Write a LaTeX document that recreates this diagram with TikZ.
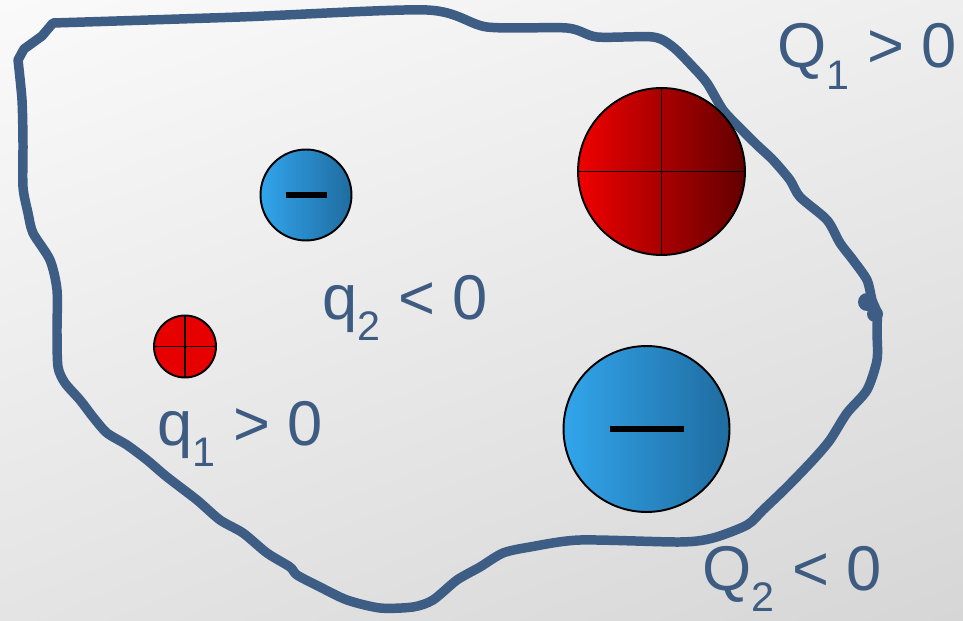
\documentclass[tikz,border=0pt]{standalone}
\usepackage{fontspec}
\setmainfont{Liberation Sans}
\usetikzlibrary{shadings}
\definecolor{outline}{RGB}{61,93,133}
\definecolor{txt}{RGB}{62,92,130}
\definecolor{bgUL}{HTML}{FAFAFA}
\definecolor{bgUR}{HTML}{EEEEEE}
\definecolor{bgLL}{HTML}{E4E4E4}
\definecolor{bgLR}{HTML}{D6D6D6}
\definecolor{blueL}{RGB}{50,165,236}
\definecolor{blueR}{RGB}{31,108,160}
\definecolor{redL}{RGB}{240,0,0}
\definecolor{redR}{RGB}{98,0,0}
\definecolor{redflat}{RGB}{230,0,0}
\newcommand{\lblsub}[1]{\raisebox{-12pt}{\fontsize{23.5}{24}\selectfont #1}}
\tikzset{
  charge/.style={circle, draw=black, line width=1.1pt, inner sep=0pt, outer sep=0pt},
  negcharge/.style={charge, left color=blueL, right color=blueR},
  poscharge/.style={charge, left color=redL, right color=redR},
  smallpos/.style={charge, fill=redflat},
  crossline/.style={black, line width=1.1pt},
  minusbar/.style={black, line width=3.6pt},
  lbl/.style={anchor=base west, inner sep=0pt, text=txt, font=\fontsize{36}{40}\selectfont},
  boundary/.style={draw=outline, line width=5.4pt, line join=round, line cap=round}
}
\begin{document}
\begin{tikzpicture}[x=0.02cm, y=-0.02cm]
\useasboundingbox (0,0) rectangle (963,621);
\shade[upper left=bgUL, upper right=bgUR, lower left=bgLL, lower right=bgLR] (0,0) rectangle (963,621);
% boundary surface
\draw[boundary] plot[smooth, tension=0.45] coordinates {
 (53,23) (240,17) (427,10) (487,27) (567,28) (597,37) (653,37) (673,47) (693,67) (707,83)
 (723,110) (740,128) (757,145) (773,160) (790,180) (800,197) (827,220) (840,243)
 (853,260) (867,280) (872,300) (877,313) (877,333) (877,360) (867,390) (847,413)
 (830,440) (813,460) (787,487) (763,510) (747,525) (713,538) (680,542) (580,540)
 (530,547) (503,553) (480,567) (457,580) (433,600) (413,607) (380,608) (347,600)
 (320,587) (297,575) (290,567) (267,553) (243,533) (220,520) (197,500) (167,477)
 (147,460) (127,445) (107,433) (93,417) (80,400) (65,383) (58,367) (57,333)
 (57,290) (50,260) (33,233) (28,213) (23,187) (23,143) (22,100) (18,60)}
 -- (24,49) -- (42,36) -- cycle;
\fill[outline] (867,302) circle[radius=9];
\fill[outline] (875,314) circle[radius=8];
% charges
\node[negcharge, minimum size=1.82cm] (qtwo) at (306,195) {};
\draw[minusbar] ([xshift=-0.40cm]qtwo.center) -- ([xshift=0.42cm]qtwo.center);
\node[smallpos, minimum size=1.24cm] (qone) at (185,346.5) {};
\draw[crossline] (qone.north) -- (qone.south);
\draw[crossline] (qone.west) -- (qone.east);
\node[poscharge, minimum size=3.34cm] (Qone) at (661.5,171.5) {};
\draw[crossline] (Qone.north) -- (Qone.south);
\draw[crossline] (Qone.west) -- (Qone.east);
\node[negcharge, minimum size=3.32cm] (Qtwo) at (646.5,429) {};
\draw[minusbar] ([xshift=-0.74cm]Qtwo.center) -- ([xshift=0.74cm]Qtwo.center);
% labels
\node[lbl] (lq1) at (157,445) {q\lblsub{1} > 0};
\node[lbl] (lq2) at (322,319) {q\lblsub{2} < 0};
\node[lbl] (lQ1) at (777,68) {Q\lblsub{1} > 0};
\node[lbl] (lQ2) at (702,590) {Q\lblsub{2} < 0};
\end{tikzpicture}
\end{document}
